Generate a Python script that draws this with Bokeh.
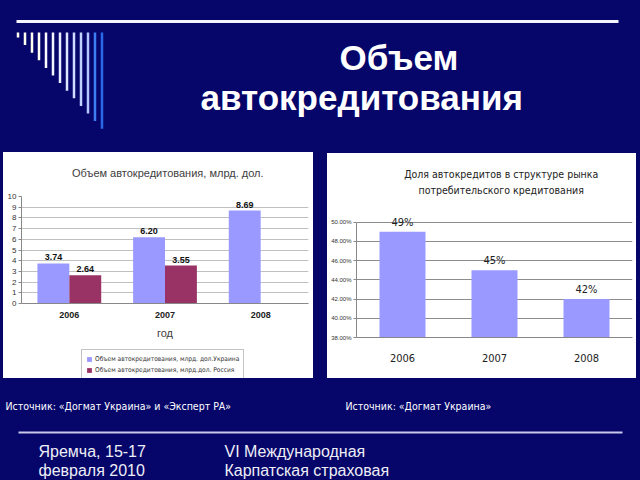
from bokeh.plotting import figure
from bokeh.layouts import column, row
from bokeh.models import (ColumnDataSource, Range1d, FactorRange, Legend, LegendItem,
                          FixedTicker, NumeralTickFormatter, Spacer)
from bokeh.transform import dodge
from bokeh.core.properties import value
from bokeh.embed import file_html
from bokeh.resources import INLINE

# ---------------- data ----------------
years = ["2006", "2007", "2008"]
ukraine_vol = [3.74, 6.20, 8.69]
russia_years = ["2006", "2007"]
russia_vol = [2.64, 3.55]
vol_ticks = [0, 1, 2, 3, 4, 5, 6, 7, 8, 9, 10]
series_names = ["Объем автокредитования, млрд. дол.Украина",
                "Объем автокредитования, млрд.дол. Россия"]

share_years = ["2006", "2007", "2008"]
share = [0.49, 0.45, 0.42]
share_ticks = [0.38, 0.40, 0.42, 0.44, 0.46, 0.48, 0.50]

NAVY = "#05056a"
UKR = "#9999ff"
RUS = "#993366"
FONT = "Liberation Sans"
NARROW = "DejaVu Sans Condensed"


def blank(w, h, fill=NAVY):
    f = figure(width=w, height=h, x_range=Range1d(0, w), y_range=Range1d(h, 0),
               x_axis_type=None, y_axis_type=None, output_backend="svg",
               toolbar_location=None, min_border=0)
    f.background_fill_color = fill
    f.border_fill_color = fill
    f.outline_line_color = None
    f.grid.visible = False
    return f


# ---------------- top of slide ----------------
top = blank(640, 152)
top.segment(x0=[16], y0=[21], x1=[618], y1=[21], line_width=3, line_color="#f4f4ff")
n = 13
bar_cols = ["#fffff0", "#fffff0", "#fffff0", "#fffff4", "#fcfcff", "#f4f6ff", "#e8eeff",
            "#dce6ff", "#cfdcff", "#c2d2ff", "#b4c8ff", "#3f7ef2", "#2a68e6"]
xs = [17.5 + 7.0 * i for i in range(n)]
top.segment(x0=xs, y0=[32] * n, x1=xs, y1=[37 + 7.6 * i for i in range(n)],
            line_width=2.5, line_color=bar_cols)
top.text(x=[339], y=[57], text=["Объем"], text_font=value(FONT), text_font_style="bold",
         text_font_size="35px", text_color="white", text_align="left",
         text_baseline="alphabetic")
top.text(x=[200], y=[97], text=["автокредитования"], text_font=value(FONT),
         text_font_style="bold", text_font_size="35px", text_color="white",
         text_align="left", text_baseline="alphabetic")

# ---------------- left chart ----------------
t1 = blank(310, 38, "white")
t1.text(x=[158], y=[20], text=["Объем автокредитования, млрд. дол."], text_font=value(FONT),
        text_font_size="11px", text_color="#404040", text_align="center",
        text_baseline="middle")

p1 = figure(width=310, height=158, x_range=FactorRange(*years), y_range=Range1d(0, 10),
            output_backend="svg", toolbar_location=None,
            min_border_left=18, min_border_right=5, min_border_top=6, min_border_bottom=45)
p1.background_fill_color = "white"
p1.border_fill_color = "white"
p1.outline_line_color = None

src_u = ColumnDataSource(dict(year=years, val=ukraine_vol,
                              lab=["%.2f" % v for v in ukraine_vol]))
src_r = ColumnDataSource(dict(year=russia_years, val=russia_vol,
                              lab=["%.2f" % v for v in russia_vol]))
p1.vbar(x=dodge("year", -1 / 6, range=p1.x_range), top="val", width=1 / 3,
        source=src_u, fill_color=UKR, line_color=None)
p1.vbar(x=dodge("year", 1 / 6, range=p1.x_range), top="val", width=1 / 3,
        source=src_r, fill_color=RUS, line_color=None)
for s, off in ((src_u, -1 / 6), (src_r, 1 / 6)):
    p1.text(x=dodge("year", off, range=p1.x_range), y="val", text="lab", source=s,
            text_align="center", text_baseline="bottom", y_offset=-3,
            text_font=value(FONT), text_font_style="bold", text_font_size="9px",
            text_color="#111111")

p1.yaxis.ticker = FixedTicker(ticks=vol_ticks)
p1.yaxis.major_label_text_font_size = "8px"
p1.yaxis.major_label_text_font = FONT
p1.yaxis.major_label_text_color = "#333333"
p1.yaxis.axis_line_color = "#888888"
p1.yaxis.major_tick_line_color = "#888888"
p1.yaxis.major_tick_out = 3
p1.yaxis.major_tick_in = 0
p1.yaxis.minor_tick_line_color = None
p1.yaxis.major_label_standoff = 2

p1.xaxis.axis_line_color = "#888888"
p1.xaxis.major_tick_line_color = None
p1.xaxis.major_tick_out = 0
p1.xaxis.major_label_standoff = 8
p1.xaxis.major_label_text_font = FONT
p1.xaxis.major_label_text_font_style = "bold"
p1.xaxis.major_label_text_font_size = "9px"
p1.xaxis.major_label_text_color = "#222222"
p1.xaxis.axis_label = "год"
p1.xaxis.axis_label_text_font = FONT
p1.xaxis.axis_label_text_font_style = "normal"
p1.xaxis.axis_label_text_font_size = "11px"
p1.xaxis.axis_label_text_color = "#404040"
p1.xaxis.axis_label_standoff = 6
p1.ygrid.grid_line_color = "#c0c0c0"
p1.xgrid.grid_line_color = None

# legend strip under the left chart (key glyphs only, zero-size bars)
l1 = blank(310, 30, "white")
d_u = l1.vbar(x=[0], top=[0], width=0, fill_color=UKR, line_color=None)
d_r = l1.vbar(x=[0], top=[0], width=0, fill_color=RUS, line_color=None)
leg = Legend(items=[LegendItem(label=series_names[0], renderers=[d_u]),
                    LegendItem(label=series_names[1], renderers=[d_r])],
             location=(60, -1), padding=4, spacing=2, margin=0,
             glyph_width=6, glyph_height=6,
             label_height=9, label_standoff=3, label_text_font_size="6.6px",
             label_text_font=NARROW, label_text_color="#333333",
             border_line_color="#8a8a8a", background_fill_color="white",
             background_fill_alpha=1)
l1.add_layout(leg)

# ---------------- right chart ----------------
t2 = blank(309, 55, "white")
t2.text(x=[162, 162], y=[20, 36],
        text=["Доля автокредитов в структуре рынка", "потребительского кредитования"],
        text_font=value(NARROW), text_font_size="10.5px", text_color="#222222",
        text_align="center", text_baseline="middle")

p2 = figure(width=309, height=170, x_range=FactorRange(*share_years),
            y_range=Range1d(0.38, 0.5143), output_backend="svg", toolbar_location=None,
            min_border_left=29, min_border_right=4, min_border_top=0, min_border_bottom=41)
p2.background_fill_color = "white"
p2.border_fill_color = "white"
p2.outline_line_color = None

src_s = ColumnDataSource(dict(year=share_years, val=share,
                              lab=["%d%%" % round(v * 100) for v in share]))
p2.vbar(x="year", top="val", width=0.5, source=src_s, fill_color=UKR, line_color=None)
p2.text(x="year", y="val", text="lab", source=src_s, text_align="center",
        text_baseline="bottom", y_offset=-3, text_font=value(NARROW),
        text_font_size="11px", text_color="#222222")

p2.yaxis.ticker = FixedTicker(ticks=share_ticks)
p2.yaxis.bounds = (share_ticks[0], share_ticks[-1])
p2.yaxis.formatter = NumeralTickFormatter(format="0.00%")
p2.yaxis.major_label_text_font_size = "6px"
p2.yaxis.major_label_text_font = FONT
p2.yaxis.major_label_text_color = "#333333"
p2.yaxis.axis_line_color = "#888888"
p2.yaxis.major_tick_line_color = "#888888"
p2.yaxis.major_tick_out = 3
p2.yaxis.major_tick_in = 0
p2.yaxis.minor_tick_line_color = None
p2.yaxis.major_label_standoff = 2

p2.xaxis.axis_line_color = "#888888"
p2.xaxis.major_tick_line_color = None
p2.xaxis.major_tick_out = 0
p2.xaxis.major_label_standoff = 16
p2.xaxis.major_label_text_font = NARROW
p2.xaxis.major_label_text_font_size = "11px"
p2.xaxis.major_label_text_color = "#222222"
p2.ygrid.grid_line_color = "#8c8c8c"
p2.xgrid.grid_line_color = None

# ---------------- bottom of slide ----------------
bot = blank(640, 102)
bot.text(x=[5, 345], y=[27, 27],
         text=["Источник: «Догмат Украина» и «Эксперт РА»", "Источник: «Догмат Украина»"],
         text_font=value(NARROW), text_font_size="10.5px", text_color="white",
         text_align="left", text_baseline="middle")
bot.segment(x0=[18], y0=[54], x1=[622], y1=[54], line_width=2, line_color="#c8c8e8")
bot.text(x=[38, 38, 224, 224], y=[73, 92, 73, 92],
         text=["Яремча, 15-17", "февраля 2010", "VI Международная", "Карпатская страховая"],
         text_font=value(FONT), text_font_size="16px", text_color="#eeeef6",
         text_align="left", text_baseline="middle")

nav = {"background-color": NAVY}
wht = {"background-color": "white"}
c1 = column(t1, p1, l1, styles=wht)
c2 = column(Spacer(width=309, height=1, styles=nav), t2, p2, styles=wht)
mid = row(Spacer(width=3, height=226, styles=nav), c1, Spacer(width=14, height=226, styles=nav),
          c2, Spacer(width=4, height=226, styles=nav), styles=nav)
layout = column(top, mid, bot, styles=nav)

open("out.html", "w").write(file_html(layout, INLINE))
